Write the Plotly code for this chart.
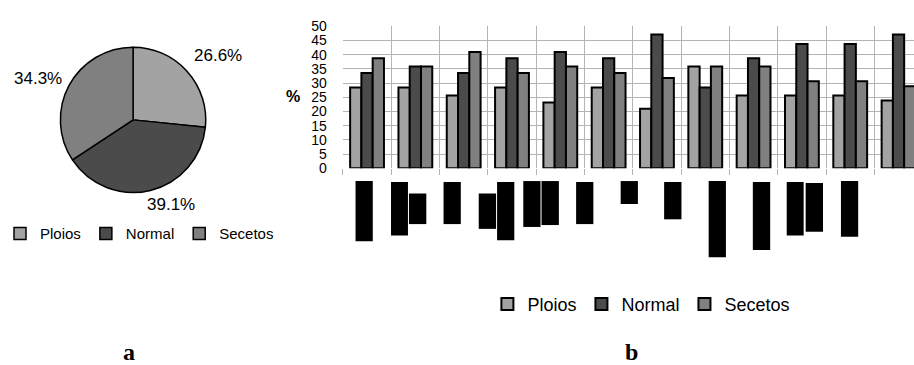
import plotly.graph_objects as go

W, H = 914, 365

# ---- data ----
series_names = ["Ploios", "Normal", "Secetos"]
series_colors = ["#a3a3a3", "#4b4b4b", "#808080"]

pie_values = [26.6, 39.1, 34.3]

group_ids = ["G1", "G2", "G3", "G4", "G5", "G6", "G7", "G8", "G9", "G10", "G11", "G12"]
ploios = [28.4, 28.4, 25.6, 28.4, 23.2, 28.4, 21.0, 35.8, 25.6, 25.6, 25.6, 23.9]
normal = [33.5, 35.8, 33.5, 38.7, 40.9, 38.7, 47.1, 28.4, 38.7, 43.7, 43.7, 47.1]
secetos = [38.7, 35.8, 40.9, 33.5, 35.8, 33.5, 31.8, 35.8, 35.8, 30.6, 30.6, 28.9]
bar_series = [ploios, normal, secetos]

y_ticks = [0, 5, 10, 15, 20, 25, 30, 35, 40, 45, 50]


def X(px):
    return px / W


def Y(py):
    return 1 - py / H


FONT = "Arial, Liberation Sans, sans-serif"
SERIF = "Times New Roman, Liberation Serif, serif"

fig = go.Figure()

# ---- pie (a) ----
fig.add_trace(go.Pie(
    labels=series_names,
    values=pie_values,
    sort=False,
    direction="clockwise",
    rotation=0,
    textinfo="none",
    hoverinfo="label+percent",
    marker=dict(colors=series_colors, line=dict(color="black", width=1.5)),
    domain=dict(x=[X(54), X(207)], y=[Y(193), Y(41)]),
    legend="legend",
    showlegend=True,
))

# ---- bars (b) ----
for name, color, vals in zip(series_names, series_colors, bar_series):
    fig.add_trace(go.Bar(
        x=group_ids,
        y=vals,
        name=name,
        marker=dict(color=color, line=dict(color="black", width=2)),
        legend="legend2",
        xaxis="x",
        yaxis="y",
    ))

# pie percentage labels
pie_label_pos = [(215.3, 50), (168.3, 206), (35.5, 74)]
annotations = []
for v, (px, py) in zip(pie_values, pie_label_pos):
    annotations.append(dict(
        text=f"{v:.1f}%", x=X(px), y=Y(py), xref="paper", yref="paper",
        showarrow=False, xanchor="center", yanchor="middle",
        font=dict(family=FONT, size=17, color="black"),
    ))

annotations.append(dict(
    text="<b>%</b>", x=X(291), y=Y(93), xref="paper", yref="paper",
    showarrow=False, xanchor="center", yanchor="middle",
    font=dict(family=FONT, size=16, color="black"),
))
annotations.append(dict(
    text="<b>a</b>", x=X(126.7), y=Y(360), xref="paper", yref="paper",
    showarrow=False, xanchor="center", yanchor="middle",
    font=dict(family=SERIF, size=24, color="black"),
))
annotations.append(dict(
    text="<b>b</b>", x=X(631), y=Y(360), xref="paper", yref="paper",
    showarrow=False, xanchor="center", yanchor="middle",
    font=dict(family=SERIF, size=24, color="black"),
))

# redaction blocks covering category labels (as in the source image)
redactions = [
    (353.7, 181, 371, 244), (389.3, 182, 406.3, 238), (407.3, 194, 424.7, 226),
    (442, 182, 459.3, 226), (477.3, 194, 494.7, 231), (495.7, 182, 513, 243),
    (522, 181, 539.3, 229), (540.3, 181, 557.7, 227), (575, 182, 592.3, 226),
    (619.7, 181, 637, 205), (663.3, 182, 680.7, 221), (708, 181, 725.3, 260.7),
    (752.3, 182, 769.7, 253), (786.3, 182, 803.3, 238), (805.3, 183, 822.7, 234),
    (840.7, 181, 858, 239.3),
]
shapes = [
    dict(type="rect", xref="paper", yref="paper", x0=X(a), x1=X(c), y0=Y(d), y1=Y(b),
         fillcolor="black", line=dict(width=0), layer="above")
    for a, b, c, d in redactions
]

fig.update_layout(
    width=W, height=H,
    margin=dict(l=0, r=0, t=0, b=0),
    paper_bgcolor="white", plot_bgcolor="white",
    barmode="group", bargap=0.3, bargroupgap=0,
    font=dict(family=FONT, color="black"),
    xaxis=dict(
        domain=[X(341), 1.0],
        type="category",
        range=[-0.5, 11.32],
        tickson="boundaries",
        showticklabels=False,
        ticks="outside", ticklen=6, tickcolor="#b4b4b4", tickwidth=1,
        showgrid=True, gridcolor="#b4b4b4", gridwidth=1,
        showline=False, zeroline=False,
    ),
    yaxis=dict(
        domain=[Y(167.7), Y(19)],
        range=[0, 50],
        tickvals=y_ticks,
        ticktext=[str(t) for t in y_ticks],
        tickfont=dict(family=FONT, size=14, color="black"),
        ticks="", ticklabelstandoff=15,
        showgrid=True, gridcolor="#b4b4b4", gridwidth=1,
        showline=False, zeroline=False,
    ),
    legend=dict(
        orientation="h", x=X(-3), y=Y(236), xanchor="left", yanchor="middle",
        font=dict(family=FONT, size=15, color="black"),
        itemwidth=30, bgcolor="rgba(0,0,0,0)", tracegroupgap=0,
    ),
    legend2=dict(
        orientation="h", x=X(486), y=Y(310), xanchor="left", yanchor="middle",
        font=dict(family=FONT, size=18, color="black"),
        itemwidth=30, bgcolor="rgba(0,0,0,0)",
    ),
    annotations=annotations,
    shapes=shapes,
)

fig.write_html("out.html")
